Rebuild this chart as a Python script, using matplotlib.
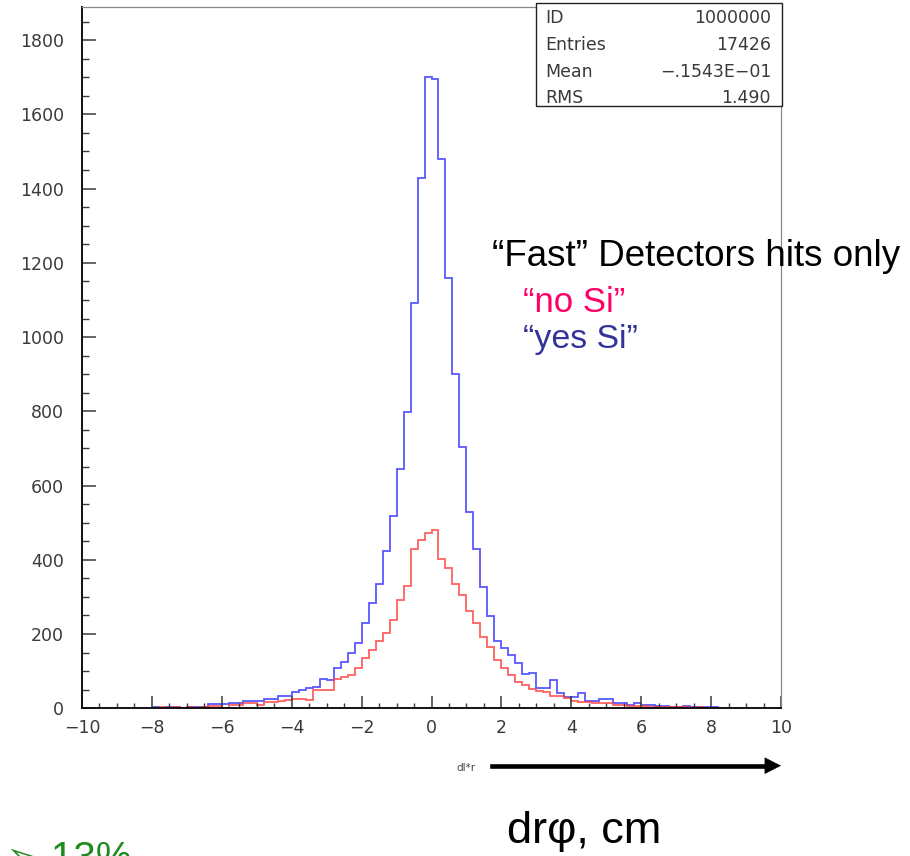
"""PAW-style histogram of dl*r: 'no Si' vs 'yes Si' fast detector hits."""

import numpy as np
import matplotlib
matplotlib.use("Agg")
import matplotlib.pyplot as plt
from matplotlib.patches import Rectangle
from matplotlib.ticker import MultipleLocator

# ---------------------------------------------------------------------------
# Data (counts per 0.2 bin, from -8.2 to 8.2)
# ---------------------------------------------------------------------------

BIN_LO = -8.2
BIN_WIDTH = 0.2

YES_SI = [
    2, 3, 2, 3, 3, 2, 3, 3, 4,            # -8.2 .. -6.4
    11, 12, 12, 14, 13, 19, 21, 20, 24, 26,
    32, 34, 45, 49, 54, 58, 80, 76, 108, 126,
    148, 177, 231, 283, 335, 425, 517, 645, 798, 1092,
    1429, 1700,                            # .. 0.0
    1695, 1480, 1159, 901, 703, 530, 429, 326, 249, 182,
    162, 144, 121, 93, 95, 54, 54, 76, 42, 31,
    31, 40, 20, 20, 24, 24, 14, 13, 9, 13,
    8, 8, 5, 5, 4, 4, 5, 4, 4, 3, 3,      # 6.0 .. 8.2
]

NO_SI = [
    2, 2, 3, 2, 3, 2, 3, 2, 3,
    6, 7, 2, 9, 9, 13, 13, 8, 18, 18,
    21, 22, 25, 24, 22, 49, 49, 50, 78, 84,
    90, 109, 135, 157, 181, 202, 238, 292, 330, 428,
    454, 472,
    480, 402, 378, 335, 305, 263, 229, 191, 166, 130,
    108, 90, 72, 63, 52, 46, 44, 33, 32, 28,
    19, 18, 16, 15, 14, 13, 10, 9, 7, 6,
    5, 4, 4, 3, 4, 3, 3, 2, 3, 2, 0,
]

STAT_NAMES = ["ID", "Entries", "Mean", "RMS"]
STAT_VALUES = ["1000000", "17426", "\u2212.1543E\u221201", "1.490"]

# ---------------------------------------------------------------------------
# Style
# ---------------------------------------------------------------------------

W, H = 910, 856
BLUE = "#3c3cff"
RED = "#ff3c3c"
TICK_COLOR = "#3a3a3a"
ARIAL = ["Liberation Sans", "DejaVu Sans"]

plt.rcParams["font.family"] = ["DejaVu Sans"]


def fx(px):
    return px / W


def fy(py):
    return 1 - py / H


def main():
    edges = BIN_LO + BIN_WIDTH * np.arange(len(YES_SI) + 1)

    fig = plt.figure(figsize=(W / 100, H / 100), dpi=100)
    ax = fig.add_axes([fx(82), fy(708.3), fx(781) - fx(82), fy(6.7) - fy(708.3)])

    ax.stairs(YES_SI, edges, color=BLUE, lw=1.3, alpha=0.85)
    ax.stairs(NO_SI, edges, color=RED, lw=1.3, alpha=0.8)

    ax.set_xlim(-10, 10)
    ax.set_ylim(0, 1890)
    ax.xaxis.set_major_locator(MultipleLocator(2))
    ax.xaxis.set_minor_locator(MultipleLocator(0.5))
    ax.yaxis.set_major_locator(MultipleLocator(200))
    ax.yaxis.set_minor_locator(MultipleLocator(50))

    ax.tick_params(axis="both", which="both", direction="in", color=TICK_COLOR,
                   labelcolor=TICK_COLOR, labelsize=12.5)
    ax.tick_params(axis="x", which="major", length=8.6, width=1.1, pad=8)
    ax.tick_params(axis="x", which="minor", length=3.6, width=1.0)
    ax.tick_params(axis="y", which="major", length=10, width=1.1, pad=13)
    ax.tick_params(axis="y", which="minor", length=5, width=1.0)

    for side in ("left", "bottom"):
        ax.spines[side].set_color("#111111")
        ax.spines[side].set_linewidth(1.4)
    for side in ("top", "right"):
        ax.spines[side].set_color("#888888")
        ax.spines[side].set_linewidth(0.9)

    # stats box
    box = Rectangle((fx(536), fy(106)), fx(782) - fx(536), fy(3) - fy(106),
                    transform=fig.transFigure, facecolor="white",
                    edgecolor="#222222", lw=1.0, zorder=5)
    fig.add_artist(box)
    for i, (name, val) in enumerate(zip(STAT_NAMES, STAT_VALUES)):
        base = 23.3 + 26.7 * i
        fig.text(fx(545), fy(base), name, fontsize=12.5, color=TICK_COLOR,
                 va="baseline", ha="left", zorder=6)
        fig.text(fx(771), fy(base), val, fontsize=12.5, color=TICK_COLOR,
                 va="baseline", ha="right", zorder=6)

    # annotations
    fig.text(fx(492), fy(266), "\u201cFast\u201d Detectors hits only", family=ARIAL,
             fontsize=26.5, color="black", va="baseline", ha="left")
    fig.text(fx(523), fy(311.5), "\u201cno Si\u201d", family=ARIAL,
             fontsize=25, color="#ff0066", va="baseline", ha="left")
    fig.text(fx(523), fy(348), "\u201cyes Si\u201d", family=ARIAL,
             fontsize=24.4, color="#333399", va="baseline", ha="left")

    fig.text(fx(466), fy(768), "dl*r", fontsize=7.5, color="#444444",
             ha="center", va="center")

    fig.add_artist(plt.Line2D([fx(492), fx(768)], [fy(765.7), fy(765.7)],
                              transform=fig.transFigure, color="black", lw=3.3))
    ax.annotate("", xy=(fx(781), fy(765.7)), xytext=(fx(760), fy(765.7)),
                xycoords="figure fraction", textcoords="figure fraction",
                arrowprops=dict(arrowstyle="-|>,head_length=0.55,head_width=0.28",
                                mutation_scale=20, color="black", lw=0.5,
                                shrinkA=0, shrinkB=0))

    fig.text(fx(507), fy(843), "dr\u03c6, cm", family=ARIAL, fontsize=32.5,
             color="black", va="baseline", ha="left")

    fig.text(fx(6), fy(870), "\u27a2 13%", family=ARIAL, fontsize=29,
             color="#1f8a1f", va="baseline", ha="left")

    fig.savefig("out.png", dpi=100, facecolor="white")
    plt.close(fig)


if __name__ == "__main__":
    main()
